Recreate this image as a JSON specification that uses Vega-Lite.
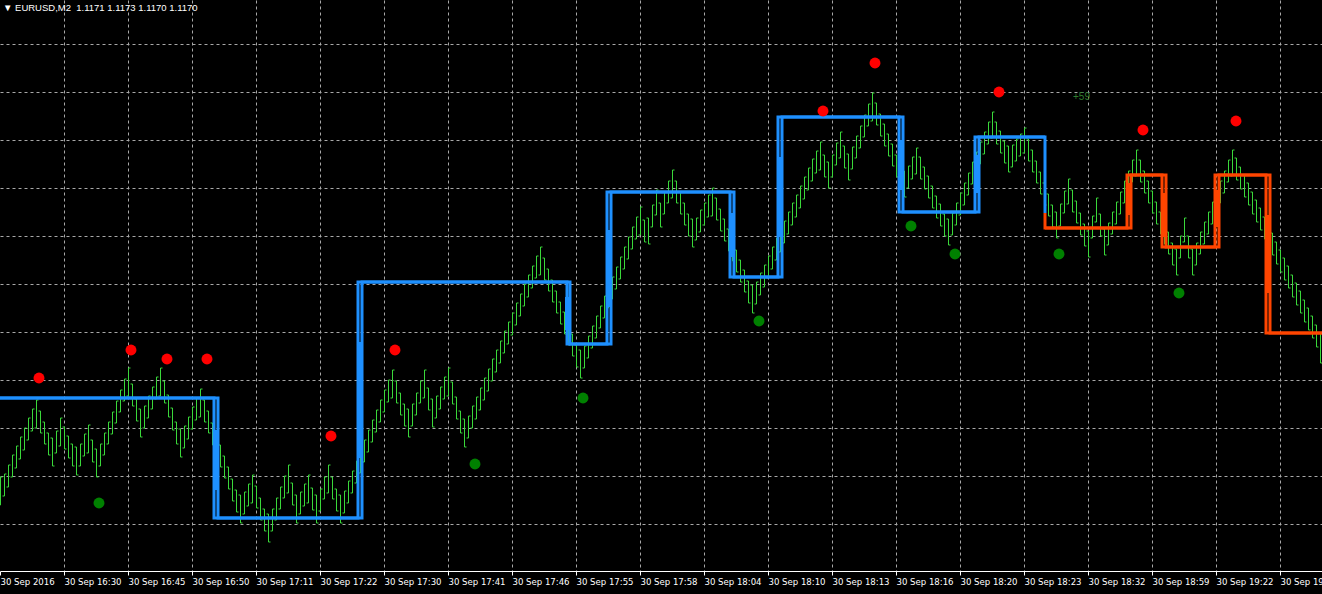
{
  "$schema": "https://vega.github.io/schema/vega-lite/v6.json",
  "width": 1322,
  "height": 571,
  "autosize": {"type": "none"},
  "padding": {"top": 0, "left": 0, "right": 0, "bottom": 23},
  "background": "#000000",
  "config": {"view": {"stroke": null}, "font": "Liberation Sans"},
  "title": {"text": "▼ EURUSD,M2\u00a0 1.1171 1.1173 1.1170 1.1170", "anchor": "start", "frame": "group", "orient": "top", "offset": -12, "baseline": "top", "color": "#ffffff", "fontSize": 9.5, "fontWeight": "normal", "font": "Liberation Sans", "dx": 3},
  "datasets": {
    "bars": [
      {"i":0,"h":1.11587,"l":1.11559,"d":1},{"i":1,"h":1.11590,"l":1.11568,"d":1},{"i":2,"h":1.11599,"l":1.11577,"d":1},{"i":3,"h":1.11609,"l":1.11587,"d":1},{"i":4,"h":1.11618,"l":1.11596,"d":1},{"i":5,"h":1.11627,"l":1.11605,"d":1},{"i":6,"h":1.11636,"l":1.11614,"d":1},{"i":7,"h":1.11646,"l":1.11624,"d":1},{"i":8,"h":1.11655,"l":1.11633,"d":1},{"i":9,"h":1.11664,"l":1.11636,"d":1},
      {"i":10,"h":1.11653,"l":1.11631,"d":-1},{"i":11,"h":1.11642,"l":1.11620,"d":-1},{"i":12,"h":1.11631,"l":1.11609,"d":-1},{"i":13,"h":1.11626,"l":1.11598,"d":-1},{"i":14,"h":1.11633,"l":1.11611,"d":1},{"i":15,"h":1.11646,"l":1.11618,"d":1},{"i":16,"h":1.11637,"l":1.11615,"d":-1},{"i":17,"h":1.11628,"l":1.11606,"d":-1},{"i":18,"h":1.11620,"l":1.11598,"d":-1},{"i":19,"h":1.11617,"l":1.11589,"d":-1},
      {"i":20,"h":1.11620,"l":1.11598,"d":1},{"i":21,"h":1.11630,"l":1.11608,"d":1},{"i":22,"h":1.11639,"l":1.11611,"d":1},{"i":23,"h":1.11624,"l":1.11602,"d":-1},{"i":24,"h":1.11615,"l":1.11587,"d":-1},{"i":25,"h":1.11620,"l":1.11598,"d":1},{"i":26,"h":1.11631,"l":1.11609,"d":1},{"i":27,"h":1.11642,"l":1.11620,"d":1},{"i":28,"h":1.11652,"l":1.11630,"d":1},{"i":29,"h":1.11663,"l":1.11641,"d":1},
      {"i":30,"h":1.11674,"l":1.11652,"d":1},{"i":31,"h":1.11685,"l":1.11663,"d":1},{"i":32,"h":1.11696,"l":1.11668,"d":1},{"i":33,"h":1.11680,"l":1.11658,"d":-1},{"i":34,"h":1.11665,"l":1.11643,"d":-1},{"i":35,"h":1.11655,"l":1.11627,"d":-1},{"i":36,"h":1.11658,"l":1.11636,"d":1},{"i":37,"h":1.11668,"l":1.11646,"d":1},{"i":38,"h":1.11677,"l":1.11655,"d":1},{"i":39,"h":1.11687,"l":1.11665,"d":1},
      {"i":40,"h":1.11696,"l":1.11668,"d":1},{"i":41,"h":1.11683,"l":1.11661,"d":-1},{"i":42,"h":1.11669,"l":1.11647,"d":-1},{"i":43,"h":1.11656,"l":1.11634,"d":-1},{"i":44,"h":1.11642,"l":1.11620,"d":-1},{"i":45,"h":1.11635,"l":1.11607,"d":-1},{"i":46,"h":1.11638,"l":1.11616,"d":1},{"i":47,"h":1.11647,"l":1.11625,"d":1},{"i":48,"h":1.11657,"l":1.11635,"d":1},{"i":49,"h":1.11666,"l":1.11644,"d":1},
      {"i":50,"h":1.11675,"l":1.11647,"d":1},{"i":51,"h":1.11664,"l":1.11642,"d":-1},{"i":52,"h":1.11653,"l":1.11631,"d":-1},{"i":53,"h":1.11641,"l":1.11619,"d":-1},{"i":54,"h":1.11630,"l":1.11608,"d":-1},{"i":55,"h":1.11619,"l":1.11597,"d":-1},{"i":56,"h":1.11608,"l":1.11586,"d":-1},{"i":57,"h":1.11597,"l":1.11575,"d":-1},{"i":58,"h":1.11585,"l":1.11563,"d":-1},{"i":59,"h":1.11574,"l":1.11552,"d":-1},
      {"i":60,"h":1.11569,"l":1.11541,"d":-1},{"i":61,"h":1.11572,"l":1.11550,"d":1},{"i":62,"h":1.11580,"l":1.11558,"d":1},{"i":63,"h":1.11589,"l":1.11561,"d":1},{"i":64,"h":1.11578,"l":1.11556,"d":-1},{"i":65,"h":1.11566,"l":1.11544,"d":-1},{"i":66,"h":1.11555,"l":1.11533,"d":-1},{"i":67,"h":1.11550,"l":1.11522,"d":-1},{"i":68,"h":1.11555,"l":1.11533,"d":1},{"i":69,"h":1.11566,"l":1.11544,"d":1},
      {"i":70,"h":1.11577,"l":1.11555,"d":1},{"i":71,"h":1.11588,"l":1.11566,"d":1},{"i":72,"h":1.11599,"l":1.11571,"d":1},{"i":73,"h":1.11581,"l":1.11559,"d":-1},{"i":74,"h":1.11569,"l":1.11541,"d":-1},{"i":75,"h":1.11572,"l":1.11550,"d":1},{"i":76,"h":1.11580,"l":1.11558,"d":1},{"i":77,"h":1.11589,"l":1.11561,"d":1},{"i":78,"h":1.11576,"l":1.11554,"d":-1},{"i":79,"h":1.11569,"l":1.11541,"d":-1},
      {"i":80,"h":1.11575,"l":1.11553,"d":1},{"i":81,"h":1.11587,"l":1.11565,"d":1},{"i":82,"h":1.11599,"l":1.11571,"d":1},{"i":83,"h":1.11587,"l":1.11565,"d":-1},{"i":84,"h":1.11575,"l":1.11553,"d":-1},{"i":85,"h":1.11569,"l":1.11541,"d":-1},{"i":86,"h":1.11573,"l":1.11551,"d":1},{"i":87,"h":1.11583,"l":1.11561,"d":1},{"i":88,"h":1.11593,"l":1.11571,"d":1},{"i":89,"h":1.11603,"l":1.11581,"d":1},
      {"i":90,"h":1.11613,"l":1.11591,"d":1},{"i":91,"h":1.11624,"l":1.11602,"d":1},{"i":92,"h":1.11634,"l":1.11612,"d":1},{"i":93,"h":1.11644,"l":1.11622,"d":1},{"i":94,"h":1.11654,"l":1.11632,"d":1},{"i":95,"h":1.11664,"l":1.11642,"d":1},{"i":96,"h":1.11674,"l":1.11652,"d":1},{"i":97,"h":1.11684,"l":1.11662,"d":1},{"i":98,"h":1.11694,"l":1.11666,"d":1},{"i":99,"h":1.11683,"l":1.11661,"d":-1},
      {"i":100,"h":1.11671,"l":1.11649,"d":-1},{"i":101,"h":1.11660,"l":1.11638,"d":-1},{"i":102,"h":1.11655,"l":1.11627,"d":-1},{"i":103,"h":1.11660,"l":1.11638,"d":1},{"i":104,"h":1.11671,"l":1.11649,"d":1},{"i":105,"h":1.11683,"l":1.11661,"d":1},{"i":106,"h":1.11694,"l":1.11666,"d":1},{"i":107,"h":1.11676,"l":1.11654,"d":-1},{"i":108,"h":1.11665,"l":1.11637,"d":-1},{"i":109,"h":1.11668,"l":1.11646,"d":1},
      {"i":110,"h":1.11677,"l":1.11655,"d":1},{"i":111,"h":1.11687,"l":1.11665,"d":1},{"i":112,"h":1.11696,"l":1.11668,"d":1},{"i":113,"h":1.11682,"l":1.11660,"d":-1},{"i":114,"h":1.11667,"l":1.11645,"d":-1},{"i":115,"h":1.11653,"l":1.11631,"d":-1},{"i":116,"h":1.11645,"l":1.11617,"d":-1},{"i":117,"h":1.11648,"l":1.11626,"d":1},{"i":118,"h":1.11658,"l":1.11636,"d":1},{"i":119,"h":1.11667,"l":1.11645,"d":1},
      {"i":120,"h":1.11676,"l":1.11654,"d":1},{"i":121,"h":1.11686,"l":1.11664,"d":1},{"i":122,"h":1.11695,"l":1.11673,"d":1},{"i":123,"h":1.11705,"l":1.11683,"d":1},{"i":124,"h":1.11714,"l":1.11692,"d":1},{"i":125,"h":1.11723,"l":1.11701,"d":1},{"i":126,"h":1.11733,"l":1.11711,"d":1},{"i":127,"h":1.11742,"l":1.11720,"d":1},{"i":128,"h":1.11751,"l":1.11729,"d":1},{"i":129,"h":1.11761,"l":1.11739,"d":1},
      {"i":130,"h":1.11770,"l":1.11748,"d":1},{"i":131,"h":1.11780,"l":1.11758,"d":1},{"i":132,"h":1.11789,"l":1.11767,"d":1},{"i":133,"h":1.11798,"l":1.11776,"d":1},{"i":134,"h":1.11808,"l":1.11786,"d":1},{"i":135,"h":1.11817,"l":1.11789,"d":1},{"i":136,"h":1.11806,"l":1.11784,"d":-1},{"i":137,"h":1.11795,"l":1.11773,"d":-1},{"i":138,"h":1.11784,"l":1.11762,"d":-1},{"i":139,"h":1.11773,"l":1.11751,"d":-1},
      {"i":140,"h":1.11762,"l":1.11740,"d":-1},{"i":141,"h":1.11752,"l":1.11730,"d":-1},{"i":142,"h":1.11741,"l":1.11719,"d":-1},{"i":143,"h":1.11730,"l":1.11708,"d":-1},{"i":144,"h":1.11719,"l":1.11697,"d":-1},{"i":145,"h":1.11714,"l":1.11686,"d":-1},{"i":146,"h":1.11718,"l":1.11696,"d":1},{"i":147,"h":1.11728,"l":1.11706,"d":1},{"i":148,"h":1.11738,"l":1.11716,"d":1},{"i":149,"h":1.11748,"l":1.11726,"d":1},
      {"i":150,"h":1.11758,"l":1.11736,"d":1},{"i":151,"h":1.11768,"l":1.11746,"d":1},{"i":152,"h":1.11778,"l":1.11756,"d":1},{"i":153,"h":1.11787,"l":1.11765,"d":1},{"i":154,"h":1.11797,"l":1.11775,"d":1},{"i":155,"h":1.11807,"l":1.11785,"d":1},{"i":156,"h":1.11817,"l":1.11795,"d":1},{"i":157,"h":1.11827,"l":1.11805,"d":1},{"i":158,"h":1.11837,"l":1.11815,"d":1},{"i":159,"h":1.11847,"l":1.11825,"d":1},
      {"i":160,"h":1.11857,"l":1.11829,"d":1},{"i":161,"h":1.11844,"l":1.11822,"d":-1},{"i":162,"h":1.11846,"l":1.11820,"d":-1},{"i":163,"h":1.11859,"l":1.11837,"d":1},{"i":164,"h":1.11874,"l":1.11849,"d":1},{"i":165,"h":1.11861,"l":1.11837,"d":-1},{"i":166,"h":1.11872,"l":1.11850,"d":1},{"i":167,"h":1.11883,"l":1.11861,"d":1},{"i":168,"h":1.11894,"l":1.11866,"d":1},{"i":169,"h":1.11883,"l":1.11861,"d":-1},
      {"i":170,"h":1.11872,"l":1.11850,"d":-1},{"i":171,"h":1.11861,"l":1.11839,"d":-1},{"i":172,"h":1.11850,"l":1.11828,"d":-1},{"i":173,"h":1.11845,"l":1.11817,"d":-1},{"i":174,"h":1.11846,"l":1.11824,"d":1},{"i":175,"h":1.11854,"l":1.11832,"d":1},{"i":176,"h":1.11861,"l":1.11839,"d":1},{"i":177,"h":1.11869,"l":1.11847,"d":1},{"i":178,"h":1.11876,"l":1.11848,"d":1},{"i":179,"h":1.11866,"l":1.11844,"d":-1},
      {"i":180,"h":1.11855,"l":1.11833,"d":-1},{"i":181,"h":1.11845,"l":1.11823,"d":-1},{"i":182,"h":1.11835,"l":1.11813,"d":-1},{"i":183,"h":1.11825,"l":1.11803,"d":-1},{"i":184,"h":1.11814,"l":1.11792,"d":-1},{"i":185,"h":1.11804,"l":1.11782,"d":-1},{"i":186,"h":1.11794,"l":1.11772,"d":-1},{"i":187,"h":1.11783,"l":1.11761,"d":-1},{"i":188,"h":1.11779,"l":1.11751,"d":-1},{"i":189,"h":1.11782,"l":1.11760,"d":1},
      {"i":190,"h":1.11791,"l":1.11769,"d":1},{"i":191,"h":1.11799,"l":1.11777,"d":1},{"i":192,"h":1.11808,"l":1.11786,"d":1},{"i":193,"h":1.11817,"l":1.11795,"d":1},{"i":194,"h":1.11826,"l":1.11804,"d":1},{"i":195,"h":1.11834,"l":1.11812,"d":1},{"i":196,"h":1.11843,"l":1.11821,"d":1},{"i":197,"h":1.11852,"l":1.11830,"d":1},{"i":198,"h":1.11861,"l":1.11839,"d":1},{"i":199,"h":1.11869,"l":1.11847,"d":1},
      {"i":200,"h":1.11878,"l":1.11856,"d":1},{"i":201,"h":1.11887,"l":1.11865,"d":1},{"i":202,"h":1.11896,"l":1.11874,"d":1},{"i":203,"h":1.11905,"l":1.11883,"d":1},{"i":204,"h":1.11913,"l":1.11891,"d":1},{"i":205,"h":1.11922,"l":1.11894,"d":1},{"i":206,"h":1.11909,"l":1.11887,"d":-1},{"i":207,"h":1.11902,"l":1.11876,"d":-1},{"i":208,"h":1.11909,"l":1.11887,"d":1},{"i":209,"h":1.11921,"l":1.11899,"d":1},
      {"i":210,"h":1.11932,"l":1.11906,"d":1},{"i":211,"h":1.11918,"l":1.11896,"d":-1},{"i":212,"h":1.11910,"l":1.11884,"d":-1},{"i":213,"h":1.11917,"l":1.11895,"d":1},{"i":214,"h":1.11928,"l":1.11906,"d":1},{"i":215,"h":1.11938,"l":1.11916,"d":1},{"i":216,"h":1.11949,"l":1.11927,"d":1},{"i":217,"h":1.11960,"l":1.11938,"d":1},{"i":218,"h":1.11971,"l":1.11943,"d":1},{"i":219,"h":1.11961,"l":1.11939,"d":-1},
      {"i":220,"h":1.11950,"l":1.11928,"d":-1},{"i":221,"h":1.11940,"l":1.11918,"d":-1},{"i":222,"h":1.11930,"l":1.11908,"d":-1},{"i":223,"h":1.11920,"l":1.11898,"d":-1},{"i":224,"h":1.11909,"l":1.11887,"d":-1},{"i":225,"h":1.11899,"l":1.11877,"d":-1},{"i":226,"h":1.11893,"l":1.11867,"d":-1},{"i":227,"h":1.11898,"l":1.11876,"d":1},{"i":228,"h":1.11907,"l":1.11885,"d":1},{"i":229,"h":1.11916,"l":1.11890,"d":1},
      {"i":230,"h":1.11907,"l":1.11885,"d":-1},{"i":231,"h":1.11897,"l":1.11875,"d":-1},{"i":232,"h":1.11888,"l":1.11866,"d":-1},{"i":233,"h":1.11878,"l":1.11856,"d":-1},{"i":234,"h":1.11868,"l":1.11846,"d":-1},{"i":235,"h":1.11860,"l":1.11838,"d":-1},{"i":236,"h":1.11850,"l":1.11828,"d":-1},{"i":237,"h":1.11845,"l":1.11819,"d":-1},{"i":238,"h":1.11851,"l":1.11829,"d":1},{"i":239,"h":1.11861,"l":1.11839,"d":1},
      {"i":240,"h":1.11871,"l":1.11849,"d":1},{"i":241,"h":1.11881,"l":1.11859,"d":1},{"i":242,"h":1.11891,"l":1.11869,"d":1},{"i":243,"h":1.11902,"l":1.11880,"d":1},{"i":244,"h":1.11912,"l":1.11890,"d":1},{"i":245,"h":1.11922,"l":1.11900,"d":1},{"i":246,"h":1.11932,"l":1.11910,"d":1},{"i":247,"h":1.11942,"l":1.11920,"d":1},{"i":248,"h":1.11952,"l":1.11926,"d":1},{"i":249,"h":1.11942,"l":1.11920,"d":-1},
      {"i":250,"h":1.11933,"l":1.11911,"d":-1},{"i":251,"h":1.11923,"l":1.11901,"d":-1},{"i":252,"h":1.11918,"l":1.11892,"d":-1},{"i":253,"h":1.11919,"l":1.11897,"d":1},{"i":254,"h":1.11925,"l":1.11903,"d":1},{"i":255,"h":1.11930,"l":1.11908,"d":1},{"i":256,"h":1.11936,"l":1.11911,"d":1},{"i":257,"h":1.11925,"l":1.11903,"d":-1},{"i":258,"h":1.11914,"l":1.11892,"d":-1},{"i":259,"h":1.11903,"l":1.11881,"d":-1},
      {"i":260,"h":1.11892,"l":1.11870,"d":-1},{"i":261,"h":1.11881,"l":1.11859,"d":-1},{"i":262,"h":1.11870,"l":1.11848,"d":-1},{"i":263,"h":1.11859,"l":1.11837,"d":-1},{"i":264,"h":1.11852,"l":1.11826,"d":-1},{"i":265,"h":1.11860,"l":1.11838,"d":1},{"i":266,"h":1.11873,"l":1.11851,"d":1},{"i":267,"h":1.11885,"l":1.11860,"d":1},{"i":268,"h":1.11874,"l":1.11852,"d":-1},{"i":269,"h":1.11863,"l":1.11841,"d":-1},
      {"i":270,"h":1.11851,"l":1.11829,"d":-1},{"i":271,"h":1.11840,"l":1.11818,"d":-1},{"i":272,"h":1.11833,"l":1.11807,"d":-1},{"i":273,"h":1.11848,"l":1.11826,"d":1},{"i":274,"h":1.11866,"l":1.11842,"d":1},{"i":275,"h":1.11850,"l":1.11828,"d":-1},{"i":276,"h":1.11835,"l":1.11809,"d":-1},{"i":277,"h":1.11841,"l":1.11819,"d":1},{"i":278,"h":1.11852,"l":1.11830,"d":1},{"i":279,"h":1.11862,"l":1.11840,"d":1},
      {"i":280,"h":1.11872,"l":1.11850,"d":1},{"i":281,"h":1.11883,"l":1.11861,"d":1},{"i":282,"h":1.11893,"l":1.11871,"d":1},{"i":283,"h":1.11904,"l":1.11882,"d":1},{"i":284,"h":1.11914,"l":1.11888,"d":1},{"i":285,"h":1.11904,"l":1.11882,"d":-1},{"i":286,"h":1.11893,"l":1.11871,"d":-1},{"i":287,"h":1.11883,"l":1.11861,"d":-1},{"i":288,"h":1.11873,"l":1.11851,"d":-1},{"i":289,"h":1.11862,"l":1.11840,"d":-1},
      {"i":290,"h":1.11852,"l":1.11830,"d":-1},{"i":291,"h":1.11842,"l":1.11820,"d":-1},{"i":292,"h":1.11832,"l":1.11810,"d":-1},{"i":293,"h":1.11821,"l":1.11799,"d":-1},{"i":294,"h":1.11815,"l":1.11789,"d":-1},{"i":295,"h":1.11828,"l":1.11806,"d":1},{"i":296,"h":1.11846,"l":1.11822,"d":1},{"i":297,"h":1.11828,"l":1.11806,"d":-1},{"i":298,"h":1.11815,"l":1.11789,"d":-1},{"i":299,"h":1.11821,"l":1.11799,"d":1},
      {"i":300,"h":1.11832,"l":1.11810,"d":1},{"i":301,"h":1.11842,"l":1.11820,"d":1},{"i":302,"h":1.11852,"l":1.11830,"d":1},{"i":303,"h":1.11862,"l":1.11840,"d":1},{"i":304,"h":1.11873,"l":1.11851,"d":1},{"i":305,"h":1.11883,"l":1.11861,"d":1},{"i":306,"h":1.11893,"l":1.11871,"d":1},{"i":307,"h":1.11904,"l":1.11882,"d":1},{"i":308,"h":1.11914,"l":1.11888,"d":1},{"i":309,"h":1.11906,"l":1.11884,"d":-1},
      {"i":310,"h":1.11897,"l":1.11875,"d":-1},{"i":311,"h":1.11889,"l":1.11867,"d":-1},{"i":312,"h":1.11881,"l":1.11859,"d":-1},{"i":313,"h":1.11872,"l":1.11850,"d":-1},{"i":314,"h":1.11864,"l":1.11842,"d":-1},{"i":315,"h":1.11856,"l":1.11834,"d":-1},{"i":316,"h":1.11847,"l":1.11825,"d":-1},{"i":317,"h":1.11839,"l":1.11817,"d":-1},{"i":318,"h":1.11831,"l":1.11809,"d":-1},{"i":319,"h":1.11822,"l":1.11800,"d":-1},
      {"i":320,"h":1.11814,"l":1.11792,"d":-1},{"i":321,"h":1.11806,"l":1.11784,"d":-1},{"i":322,"h":1.11798,"l":1.11776,"d":-1},{"i":323,"h":1.11789,"l":1.11767,"d":-1},{"i":324,"h":1.11781,"l":1.11759,"d":-1},{"i":325,"h":1.11773,"l":1.11751,"d":-1},{"i":326,"h":1.11764,"l":1.11742,"d":-1},{"i":327,"h":1.11756,"l":1.11734,"d":-1},{"i":328,"h":1.11748,"l":1.11726,"d":-1},{"i":329,"h":1.11739,"l":1.11717,"d":-1},
      {"i":330,"h":1.11731,"l":1.11701,"d":-1}
    ],
    "steps": [
      {"s":"a","k":0,"i":0,"p":1.11666,"c":"#1E90FF"},{"s":"a","k":1,"i":53.5,"p":1.11666,"c":"#1E90FF"},{"s":"a","k":2,"i":53.5,"p":1.11546,"c":"#1E90FF"},{"s":"a","k":3,"i":89.5,"p":1.11546,"c":"#1E90FF"},{"s":"a","k":4,"i":89.5,"p":1.11782,"c":"#1E90FF"},{"s":"a","k":5,"i":141.75,"p":1.11782,"c":"#1E90FF"},{"s":"a","k":6,"i":141.75,"p":1.1172,"c":"#1E90FF"},{"s":"a","k":7,"i":151.75,"p":1.1172,"c":"#1E90FF"},{"s":"a","k":8,"i":151.75,"p":1.11872,"c":"#1E90FF"},{"s":"a","k":9,"i":182.5,"p":1.11872,"c":"#1E90FF"},{"s":"a","k":10,"i":182.5,"p":1.11787,"c":"#1E90FF"},{"s":"a","k":11,"i":194.5,"p":1.11787,"c":"#1E90FF"},{"s":"a","k":12,"i":194.5,"p":1.11947,"c":"#1E90FF"},{"s":"a","k":13,"i":224.75,"p":1.11947,"c":"#1E90FF"},{"s":"a","k":14,"i":224.75,"p":1.11852,"c":"#1E90FF"},{"s":"a","k":15,"i":243.75,"p":1.11852,"c":"#1E90FF"},{"s":"a","k":16,"i":243.75,"p":1.11927,"c":"#1E90FF"},{"s":"a","k":17,"i":261.25,"p":1.11927,"c":"#1E90FF"},{"s":"a","k":18,"i":261.25,"p":1.11851,"c":"#1E90FF"},
      {"s":"b","k":0,"i":0,"p":1.11666,"c":"#1E90FF"},{"s":"b","k":1,"i":54.5,"p":1.11666,"c":"#1E90FF"},{"s":"b","k":2,"i":54.5,"p":1.11546,"c":"#1E90FF"},{"s":"b","k":3,"i":90.5,"p":1.11546,"c":"#1E90FF"},{"s":"b","k":4,"i":90.5,"p":1.11782,"c":"#1E90FF"},{"s":"b","k":5,"i":142.5,"p":1.11782,"c":"#1E90FF"},{"s":"b","k":6,"i":142.5,"p":1.1172,"c":"#1E90FF"},{"s":"b","k":7,"i":152.75,"p":1.1172,"c":"#1E90FF"},{"s":"b","k":8,"i":152.75,"p":1.11872,"c":"#1E90FF"},{"s":"b","k":9,"i":183.5,"p":1.11872,"c":"#1E90FF"},{"s":"b","k":10,"i":183.5,"p":1.11787,"c":"#1E90FF"},{"s":"b","k":11,"i":195.5,"p":1.11787,"c":"#1E90FF"},{"s":"b","k":12,"i":195.5,"p":1.11947,"c":"#1E90FF"},{"s":"b","k":13,"i":225.75,"p":1.11947,"c":"#1E90FF"},{"s":"b","k":14,"i":225.75,"p":1.11852,"c":"#1E90FF"},{"s":"b","k":15,"i":244.75,"p":1.11852,"c":"#1E90FF"},{"s":"b","k":16,"i":244.75,"p":1.11927,"c":"#1E90FF"},{"s":"b","k":17,"i":261.25,"p":1.11927,"c":"#1E90FF"},
      {"s":"c","k":0,"i":261.25,"p":1.11851,"c":"#FF4500"},{"s":"c","k":1,"i":261.25,"p":1.11836,"c":"#FF4500"},{"s":"c","k":2,"i":281.75,"p":1.11836,"c":"#FF4500"},{"s":"c","k":3,"i":281.75,"p":1.11889,"c":"#FF4500"},{"s":"c","k":4,"i":290.5,"p":1.11889,"c":"#FF4500"},{"s":"c","k":5,"i":290.5,"p":1.11817,"c":"#FF4500"},{"s":"c","k":6,"i":303.75,"p":1.11817,"c":"#FF4500"},{"s":"c","k":7,"i":303.75,"p":1.11889,"c":"#FF4500"},{"s":"c","k":8,"i":316.5,"p":1.11889,"c":"#FF4500"},{"s":"c","k":9,"i":316.5,"p":1.11731,"c":"#FF4500"},{"s":"c","k":10,"i":330.5,"p":1.11731,"c":"#FF4500"},
      {"s":"d","k":0,"i":261.25,"p":1.11836,"c":"#FF4500"},{"s":"d","k":1,"i":282.75,"p":1.11836,"c":"#FF4500"},{"s":"d","k":2,"i":282.75,"p":1.11889,"c":"#FF4500"},{"s":"d","k":3,"i":291.5,"p":1.11889,"c":"#FF4500"},{"s":"d","k":4,"i":291.5,"p":1.11817,"c":"#FF4500"},{"s":"d","k":5,"i":304.75,"p":1.11817,"c":"#FF4500"},{"s":"d","k":6,"i":304.75,"p":1.11889,"c":"#FF4500"},{"s":"d","k":7,"i":317.5,"p":1.11889,"c":"#FF4500"},{"s":"d","k":8,"i":317.5,"p":1.11731,"c":"#FF4500"},{"s":"d","k":9,"i":330.5,"p":1.11731,"c":"#FF4500"}
    ],
    "thick": [
      {"i":54,"p1":1.11634,"p2":1.11574,"c":"#1E90FF"},{"i":90,"p1":1.11722,"p2":1.11606,"c":"#1E90FF"},{"i":142,"p1":1.11767,"p2":1.11734,"c":"#1E90FF"},{"i":152.25,"p1":1.11834,"p2":1.11757,"c":"#1E90FF"},{"i":183,"p1":1.11851,"p2":1.11807,"c":"#1E90FF"},{"i":195,"p1":1.11907,"p2":1.11827,"c":"#1E90FF"},{"i":225.25,"p1":1.11924,"p2":1.11874,"c":"#1E90FF"},{"i":244.25,"p1":1.11909,"p2":1.11871,"c":"#1E90FF"},
      {"i":282.25,"p1":1.11881,"p2":1.11849,"c":"#FF4500"},{"i":291,"p1":1.11871,"p2":1.11827,"c":"#FF4500"},{"i":304.25,"p1":1.11874,"p2":1.11837,"c":"#FF4500"},{"i":317,"p1":1.11849,"p2":1.11771,"c":"#FF4500"}
    ],
    "dots": [
      {"i":9.75,"p":1.11686,"c":"#FF0000"},{"i":32.75,"p":1.11714,"c":"#FF0000"},{"i":41.75,"p":1.11705,"c":"#FF0000"},{"i":51.75,"p":1.11705,"c":"#FF0000"},{"i":82.75,"p":1.11628,"c":"#FF0000"},{"i":98.75,"p":1.11714,"c":"#FF0000"},{"i":205.75,"p":1.11953,"c":"#FF0000"},{"i":218.75,"p":1.12001,"c":"#FF0000"},{"i":249.75,"p":1.11972,"c":"#FF0000"},{"i":285.75,"p":1.11934,"c":"#FF0000"},{"i":309,"p":1.11943,"c":"#FF0000"},
      {"i":24.75,"p":1.11561,"c":"#008000"},{"i":118.75,"p":1.116,"c":"#008000"},{"i":145.75,"p":1.11666,"c":"#008000"},{"i":189.75,"p":1.11743,"c":"#008000"},{"i":227.75,"p":1.11838,"c":"#008000"},{"i":238.75,"p":1.1181,"c":"#008000"},{"i":264.75,"p":1.1181,"c":"#008000"},{"i":294.75,"p":1.11771,"c":"#008000"}
    ],
    "note": [{"i":268.25,"p":1.11967,"t":"+59"}]
  },
  "layer": [
    {
      "data": {"name": "bars"},
      "mark": {"type": "rule", "color": "#3ad83a", "strokeWidth": 1, "xOffset": 0.5},
      "encoding": {
        "x": {"field": "i", "type": "quantitative", "title": null,
          "scale": {"domain": [0, 330.5], "nice": false, "zero": false},
          "axis": {
            "values": [0,8,16,24,32,40,48,56,64,72,80,88,96,104,112,120,128,136,144,152,160,168,176,184,192,200,208,216,224,232,240,248,256,264,272,280,288,296,304,312,320,328],
            "title": null, "grid": true, "gridColor": "#a8a8a8", "gridDash": [3, 3], "gridWidth": 1,
            "gridOpacity": {"condition": {"test": "datum.value == 0", "value": 0}, "value": 1},
            "domain": true, "domainColor": "#ffffff", "domainWidth": 1,
            "ticks": true, "tickColor": "#ffffff", "tickSize": 4,
            "tickOpacity": {"condition": {"test": "datum.value % 16 != 0", "value": 0}, "value": 1},
            "labelExpr": "datum.value % 16 == 0 ? ['30 Sep 2016','30 Sep 16:30','30 Sep 16:45','30 Sep 16:50','30 Sep 17:11','30 Sep 17:22','30 Sep 17:30','30 Sep 17:41','30 Sep 17:46','30 Sep 17:55','30 Sep 17:58','30 Sep 18:04','30 Sep 18:10','30 Sep 18:13','30 Sep 18:16','30 Sep 18:20','30 Sep 18:23','30 Sep 18:32','30 Sep 18:59','30 Sep 19:22','30 Sep 19:41'][datum.value / 16] : ''",
            "labelAlign": "left", "labelColor": "#ffffff", "labelFont": "DejaVu Sans Condensed", "labelFontSize": 9.5,
            "labelPadding": 1, "labelFlush": false, "labelOverlap": false, "labelBound": false
          }},
        "y": {"field": "h", "type": "quantitative", "title": null,
          "scale": {"domain": [1.11493, 1.12064], "nice": false, "zero": false},
          "axis": {
            "values": [1.1202, 1.11972, 1.11924, 1.11876, 1.11828, 1.1178, 1.11732, 1.11684, 1.11636, 1.11588, 1.1154],
            "title": null, "grid": true, "gridColor": "#a8a8a8", "gridDash": [3, 3], "gridWidth": 1,
            "labels": false, "ticks": false, "domain": false
          }},
        "y2": {"field": "l"}
      }
    },
    {
      "data": {"name": "bars"},
      "transform": [{"filter": "datum.d == 1"}],
      "mark": {"type": "rule", "color": "#3ad83a", "strokeWidth": 1, "xOffset": -1.5, "x2Offset": 0.5},
      "encoding": {"x": {"field": "i", "type": "quantitative", "title": null}, "x2": {"field": "i"}, "y": {"field": "l", "type": "quantitative", "title": null}}
    },
    {
      "data": {"name": "bars"},
      "transform": [{"filter": "datum.d == 1"}],
      "mark": {"type": "rule", "color": "#3ad83a", "strokeWidth": 1, "xOffset": 0.5, "x2Offset": 2.5},
      "encoding": {"x": {"field": "i", "type": "quantitative", "title": null}, "x2": {"field": "i"}, "y": {"field": "h", "type": "quantitative", "title": null}}
    },
    {
      "data": {"name": "bars"},
      "transform": [{"filter": "datum.d == -1"}],
      "mark": {"type": "rule", "color": "#3ad83a", "strokeWidth": 1, "xOffset": -1.5, "x2Offset": 0.5},
      "encoding": {"x": {"field": "i", "type": "quantitative", "title": null}, "x2": {"field": "i"}, "y": {"field": "h", "type": "quantitative", "title": null}}
    },
    {
      "data": {"name": "bars"},
      "transform": [{"filter": "datum.d == -1"}],
      "mark": {"type": "rule", "color": "#3ad83a", "strokeWidth": 1, "xOffset": 0.5, "x2Offset": 2.5},
      "encoding": {"x": {"field": "i", "type": "quantitative", "title": null}, "x2": {"field": "i"}, "y": {"field": "l", "type": "quantitative", "title": null}}
    },
    {
      "data": {"name": "steps"},
      "mark": {"type": "line", "strokeWidth": 3, "strokeCap": "butt", "strokeJoin": "miter"},
      "encoding": {
        "x": {"field": "i", "type": "quantitative", "title": null},
        "y": {"field": "p", "type": "quantitative", "title": null},
        "detail": {"field": "s"},
        "order": {"field": "k", "type": "quantitative"},
        "color": {"field": "c", "type": "nominal", "scale": null}
      }
    },
    {
      "data": {"name": "thick"},
      "mark": {"type": "rule", "strokeWidth": 6},
      "encoding": {
        "x": {"field": "i", "type": "quantitative", "title": null},
        "y": {"field": "p1", "type": "quantitative", "title": null},
        "y2": {"field": "p2"},
        "color": {"field": "c", "type": "nominal", "scale": null}
      }
    },
    {
      "data": {"name": "dots"},
      "mark": {"type": "circle", "size": 120, "opacity": 1},
      "encoding": {
        "x": {"field": "i", "type": "quantitative", "title": null},
        "y": {"field": "p", "type": "quantitative", "title": null},
        "color": {"field": "c", "type": "nominal", "scale": null}
      }
    },
    {
      "data": {"name": "note"},
      "mark": {"type": "text", "align": "left", "baseline": "middle", "color": "#2e7d2e", "fontSize": 10, "font": "Liberation Sans"},
      "encoding": {
        "x": {"field": "i", "type": "quantitative", "title": null},
        "y": {"field": "p", "type": "quantitative", "title": null},
        "text": {"field": "t"}
      }
    }
  ]
}
